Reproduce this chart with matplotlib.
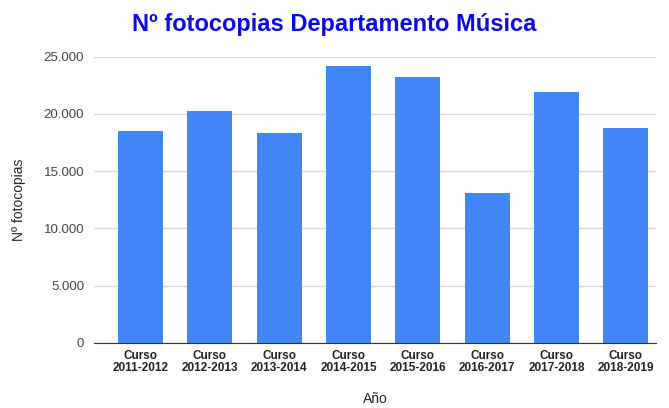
import matplotlib.pyplot as plt
from matplotlib.ticker import FuncFormatter

plt.rcParams['font.family'] = ['Liberation Sans', 'DejaVu Sans']

cursos = ["Curso\n2011-2012", "Curso\n2012-2013", "Curso\n2013-2014", "Curso\n2014-2015",
          "Curso\n2015-2016", "Curso\n2016-2017", "Curso\n2017-2018", "Curso\n2018-2019"]
fotocopias = [18500, 20250, 18300, 24200, 23250, 13100, 21900, 18800]
yticks = [0, 5000, 10000, 15000, 20000, 25000]

fig = plt.figure(figsize=(6.69, 4.08), dpi=100)
ax = fig.add_axes([0.1405, 0.16, 0.840, 0.701])

x = range(len(cursos))
ax.bar(x, fotocopias, width=0.65, color='#4285F4', zorder=3)

ax.set_xlim(-0.673, len(cursos) - 0.563)
ax.set_ylim(0, 25000)
ax.set_yticks(yticks)
ax.yaxis.set_major_formatter(FuncFormatter(lambda v, p: f"{int(v):,}".replace(",", ".")))
ax.set_xticks(list(x))
ax.set_xticklabels(cursos, fontsize=8.5, fontweight='bold', color='#222222', linespacing=1.0)

ax.grid(axis='y', color='#d9d9d9', linewidth=1, zorder=0)
for s in ['top', 'right', 'left']:
    ax.spines[s].set_visible(False)
ax.spines['bottom'].set_color('#333333')
ax.spines['bottom'].set_zorder(4)
ax.tick_params(axis='y', length=0, pad=7, labelsize=9.5, labelcolor='#444444')
ax.tick_params(axis='x', length=0, pad=5)

ax.set_ylabel("Nº fotocopias", fontsize=10, color='#222222', labelpad=13)
# x axis title placed directly so it stays inside the canvas
fig.text(0.5605, 0.022, "Año", ha='center', va='center', fontsize=10, color='#222222')

fig.text(0.5, 0.94, "Nº fotocopias Departamento Música", ha='center', va='center',
         fontsize=17, fontweight='bold', color='#0b0be8')

fig.savefig("out.png", dpi=100)
